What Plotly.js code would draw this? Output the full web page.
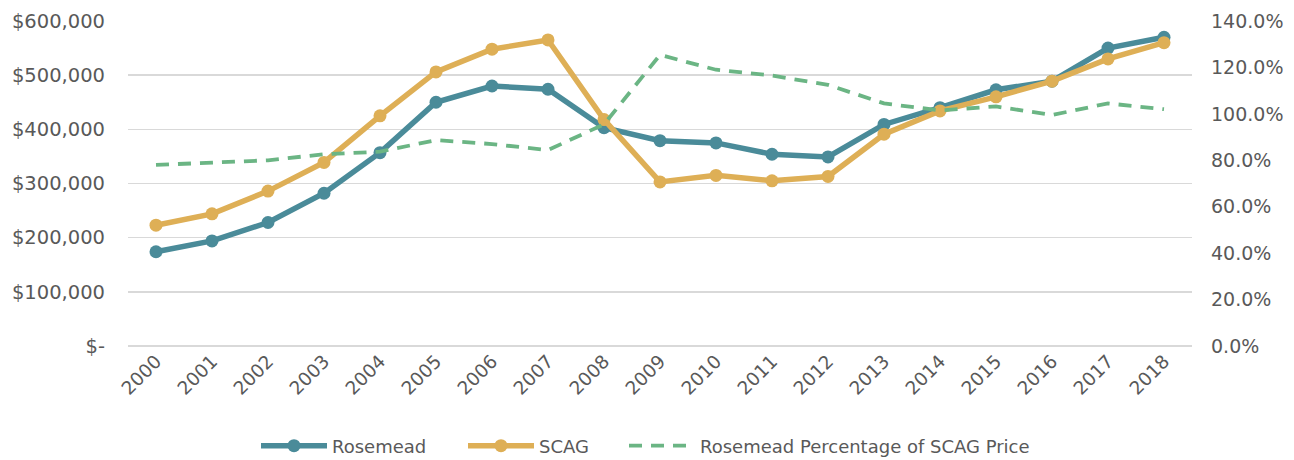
<!DOCTYPE html>
<html>
<head>
<meta charset="utf-8">
<script src="https://cdn.plot.ly/plotly-3.0.1.min.js"></script>
<style>html,body{margin:0;padding:0;background:#fff;}#chart{width:1294px;height:460px;}</style>
</head>
<body>
<div id="chart"></div>
<script>
const years = ["2000","2001","2002","2003","2004","2005","2006","2007","2008","2009","2010","2011","2012","2013","2014","2015","2016","2017","2018"];
const rosemead = [174000,194000,228000,282000,357000,450000,480000,474000,403000,379000,375000,354000,349000,409000,440000,473000,489000,550000,570000];
const scag = [223000,244000,286000,339000,425000,506000,548000,565000,418000,303000,315000,305000,313000,391000,434000,460000,489000,530000,560000];
const pctOfScag = [0.78,0.79,0.80,0.826,0.837,0.887,0.87,0.844,0.955,1.254,1.19,1.165,1.125,1.045,1.015,1.032,0.995,1.045,1.02];
const leftTickVals = [0,100000,200000,300000,400000,500000,600000];
const leftTickText = ["$-","$100,000","$200,000","$300,000","$400,000","$500,000","$600,000"];
const rightTickVals = [0,0.2,0.4,0.6,0.8,1.0,1.2,1.4];

const FONT = "DejaVu Sans, sans-serif";
const TXT = "#595959";

const traces = [
  {x: years, y: rosemead, name: "Rosemead", type: "scatter", mode: "lines+markers", legend: "legend",
   line: {color: "#4A8B99", width: 5.5}, marker: {color: "#4A8B99", size: 13}, yaxis: "y"},
  {x: years, y: scag, name: "SCAG", type: "scatter", mode: "lines+markers", legend: "legend2",
   line: {color: "#DEAF56", width: 5.5}, marker: {color: "#DEAF56", size: 13}, yaxis: "y"},
  {x: years, y: pctOfScag, name: "Rosemead Percentage of SCAG Price", type: "scatter", mode: "lines", legend: "legend3",
   line: {color: "#6BB584", width: 3.8, dash: "13px,9px"}, yaxis: "y2"}
];

function leg(xpx) {
  return {orientation: "h", xref: "container", yref: "container", x: xpx / 1294, xanchor: "left",
          y: 14 / 460, yanchor: "middle", bgcolor: "rgba(0,0,0,0)",
          font: {family: FONT, size: 18, color: TXT}, itemwidth: 66};
}

const layout = {
  width: 1294, height: 460,
  margin: {l: 128, r: 102, t: 21, b: 114},
  paper_bgcolor: "#fff", plot_bgcolor: "#fff",
  font: {family: FONT, color: TXT, size: 18},
  showlegend: true,
  legend: leg(256), legend2: leg(463), legend3: leg(624),
  xaxis: {type: "category", range: [-0.5, 18.5], showgrid: false, zeroline: false, automargin: false,
          showline: false, ticks: "", tickangle: -45, tickfont: {family: FONT, size: 18.5, color: TXT}},
  yaxis: {range: [0, 600000], tickvals: leftTickVals, ticktext: leftTickText, automargin: false,
          showgrid: true, gridcolor: "#D9D9D9", gridwidth: 1.5, zeroline: true, zerolinecolor: "#D9D9D9", zerolinewidth: 1.5,
          showline: false, ticks: "", ticklabelstandoff: 22, tickfont: {family: FONT, size: 19.5, color: TXT}},
  yaxis2: {range: [0, 1.4], tickvals: rightTickVals, tickformat: ".1%", overlaying: "y", side: "right", automargin: false,
           showgrid: false, zeroline: false, showline: false, ticks: "", ticklabelstandoff: 18,
           tickfont: {family: FONT, size: 19, color: TXT}}
};

Plotly.newPlot("chart", traces, layout, {displayModeBar: false, staticPlot: true});
</script>
</body>
</html>
